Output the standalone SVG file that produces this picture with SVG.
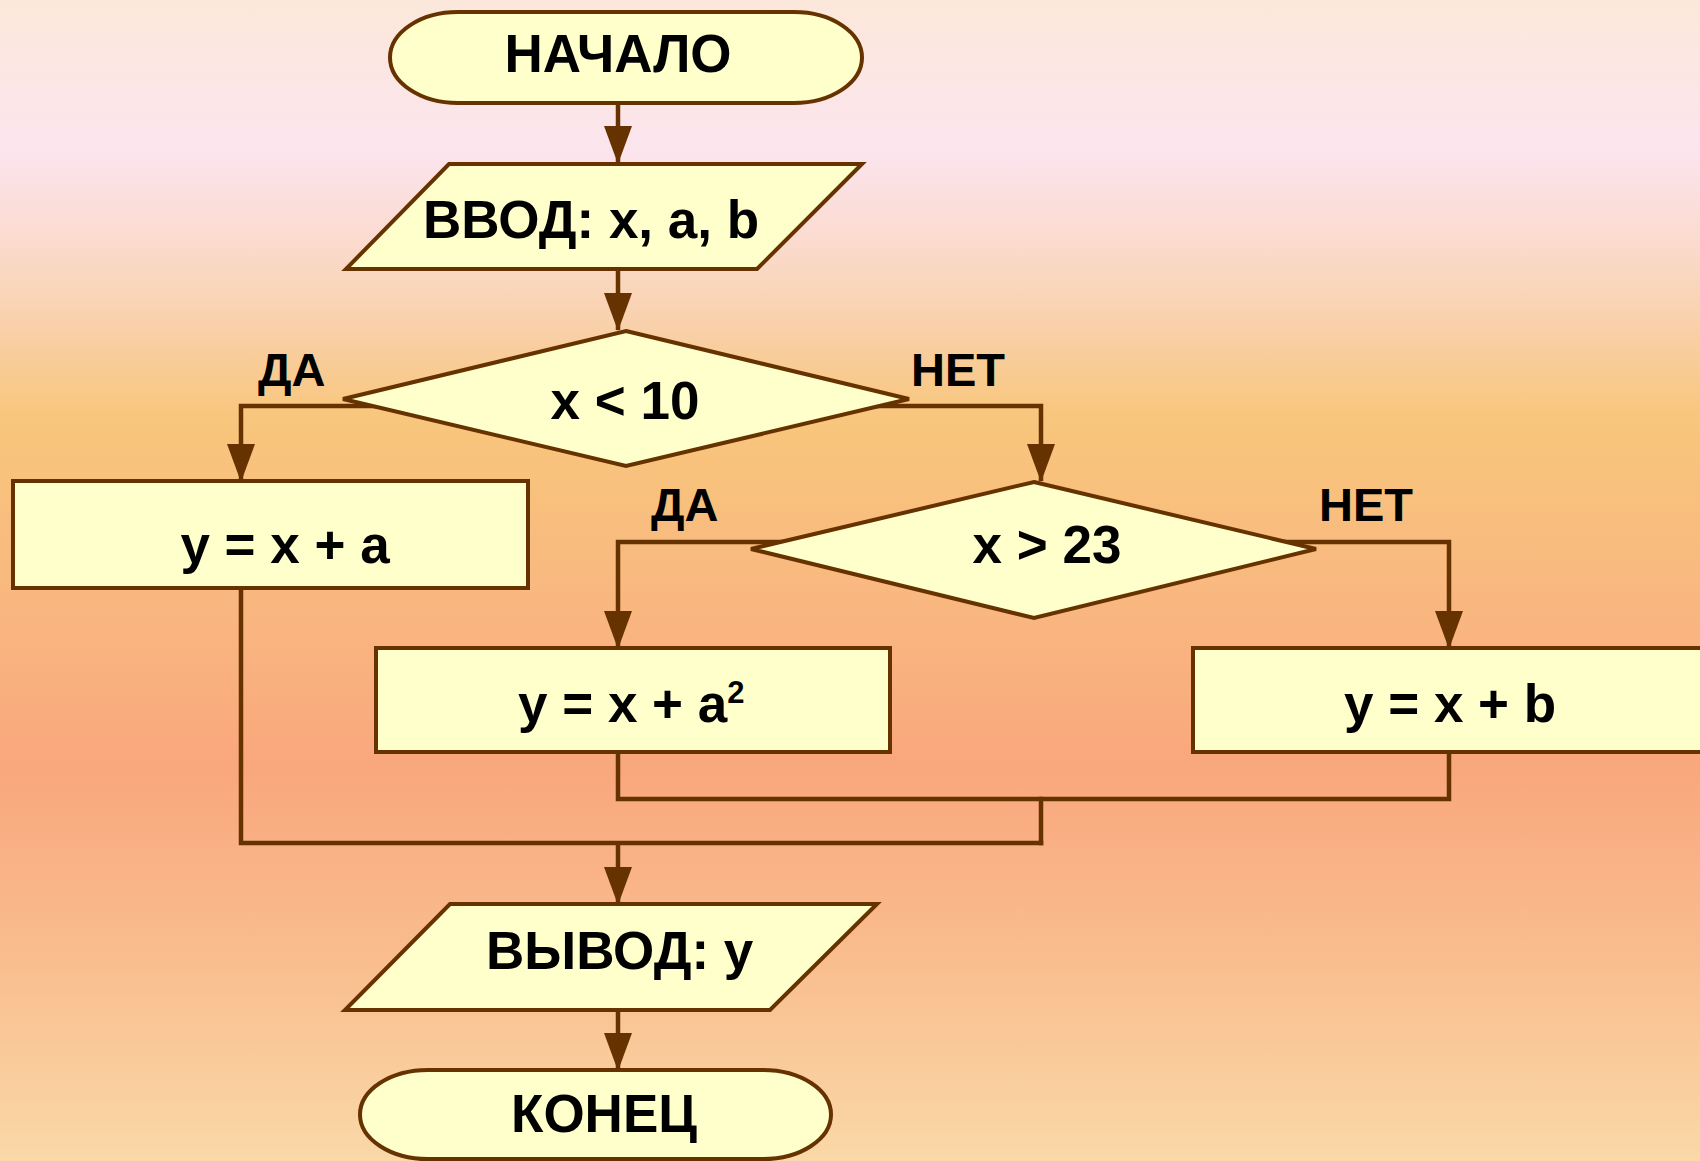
<svg xmlns="http://www.w3.org/2000/svg" width="1700" height="1161" viewBox="0 0 1700 1161">
<defs>
<linearGradient id="bg" x1="0" y1="0" x2="0" y2="1">
<stop offset="0" stop-color="#FBE8DA"/>
<stop offset="0.13" stop-color="#FCE4EE"/>
<stop offset="0.2" stop-color="#FBDCD2"/>
<stop offset="0.27" stop-color="#F9D2B0"/>
<stop offset="0.36" stop-color="#F8C67C"/>
<stop offset="0.55" stop-color="#F9B480"/>
<stop offset="0.66" stop-color="#F9A77D"/>
<stop offset="0.83" stop-color="#F9BE8E"/>
<stop offset="1" stop-color="#FAD8A8"/>
</linearGradient>
<marker id="arr" viewBox="0 0 38 28" markerWidth="38" markerHeight="28" refX="37" refY="14" orient="auto" markerUnits="userSpaceOnUse">
<path d="M0,0 L38,14 L0,28 z" fill="#663300"/>
</marker>
</defs>
<style>
.shape{fill:#FFFFCC;stroke:#663300;stroke-width:4}
.conn{fill:none;stroke:#663300;stroke-width:4.5}
.sq{stroke-linecap:square}
.t{font-family:"Liberation Sans",Arial,sans-serif;font-weight:bold;fill:#000;font-size:53px}
.lbl{font-family:"Liberation Sans",Arial,sans-serif;font-weight:bold;fill:#000;font-size:47px}
</style>
<rect x="0" y="0" width="1700" height="1161" fill="url(#bg)"/>
<g id="connectors">
<path class="conn" d="M618,103 V163" marker-end="url(#arr)"/>
<path class="conn" d="M618,269 V330" marker-end="url(#arr)"/>
<path class="conn" d="M400,406 H241 V481" marker-end="url(#arr)"/>
<path class="conn" d="M860,406 H1041 V481" marker-end="url(#arr)"/>
<path class="conn" d="M790,542 H618 V648" marker-end="url(#arr)"/>
<path class="conn" d="M1280,542 H1449 V648" marker-end="url(#arr)"/>
<path class="conn" d="M618,752 V799 H1449 V752"/>
<path class="conn sq" d="M1041,799 V843"/>
<path class="conn sq" d="M241,588 V843 H1041"/>
<path class="conn" d="M618,843 V904" marker-end="url(#arr)"/>
<path class="conn" d="M618,1010 V1070" marker-end="url(#arr)"/>
</g>
<g id="start">
<rect class="shape" x="390" y="12" width="472" height="91" rx="68" ry="45.5"/>
<text class="t" x="618" y="72" text-anchor="middle">НАЧАЛО</text>
</g>
<g id="input">
<polygon class="shape" points="449,164 862,164 757,269 346,269"/>
<text class="t" x="423" y="238">ВВОД: x, a, b</text>
</g>
<g id="dec1">
<polygon class="shape" points="626,331 909,399 626,466 343,399"/>
<text class="t" x="625" y="419" text-anchor="middle">x &lt; 10</text>
</g>
<g id="lbl-da1"><text class="lbl" x="258" y="386">ДА</text></g>
<g id="lbl-net1"><text class="lbl" x="911" y="386">НЕТ</text></g>
<g id="box1">
<rect class="shape" x="13" y="481" width="515" height="107"/>
<text class="t" x="285" y="563" text-anchor="middle">y = x + a</text>
</g>
<g id="dec2">
<polygon class="shape" points="1034,482 1316,549 1034,618 751,549"/>
<text class="t" x="1047" y="563" text-anchor="middle">x &gt; 23</text>
</g>
<g id="lbl-da2"><text class="lbl" x="651" y="521">ДА</text></g>
<g id="lbl-net2"><text class="lbl" x="1319" y="521">НЕТ</text></g>
<g id="box2">
<rect class="shape" x="376" y="648" width="514" height="104"/>
<text class="t" x="518" y="722">y = x + a<tspan font-size="31" dy="-19">2</tspan></text>
</g>
<g id="box3">
<rect class="shape" x="1193" y="648" width="560" height="104"/>
<text class="t" x="1344" y="722">y = x + b</text>
</g>
<g id="output">
<polygon class="shape" points="450,904 877,904 770,1010 345,1010"/>
<text class="t" x="486" y="969">ВЫВОД: y</text>
</g>
<g id="end">
<rect class="shape" x="360" y="1070" width="471" height="89" rx="68" ry="44.5"/>
<text class="t" x="604" y="1132" text-anchor="middle">КОНЕЦ</text>
</g>
</svg>
